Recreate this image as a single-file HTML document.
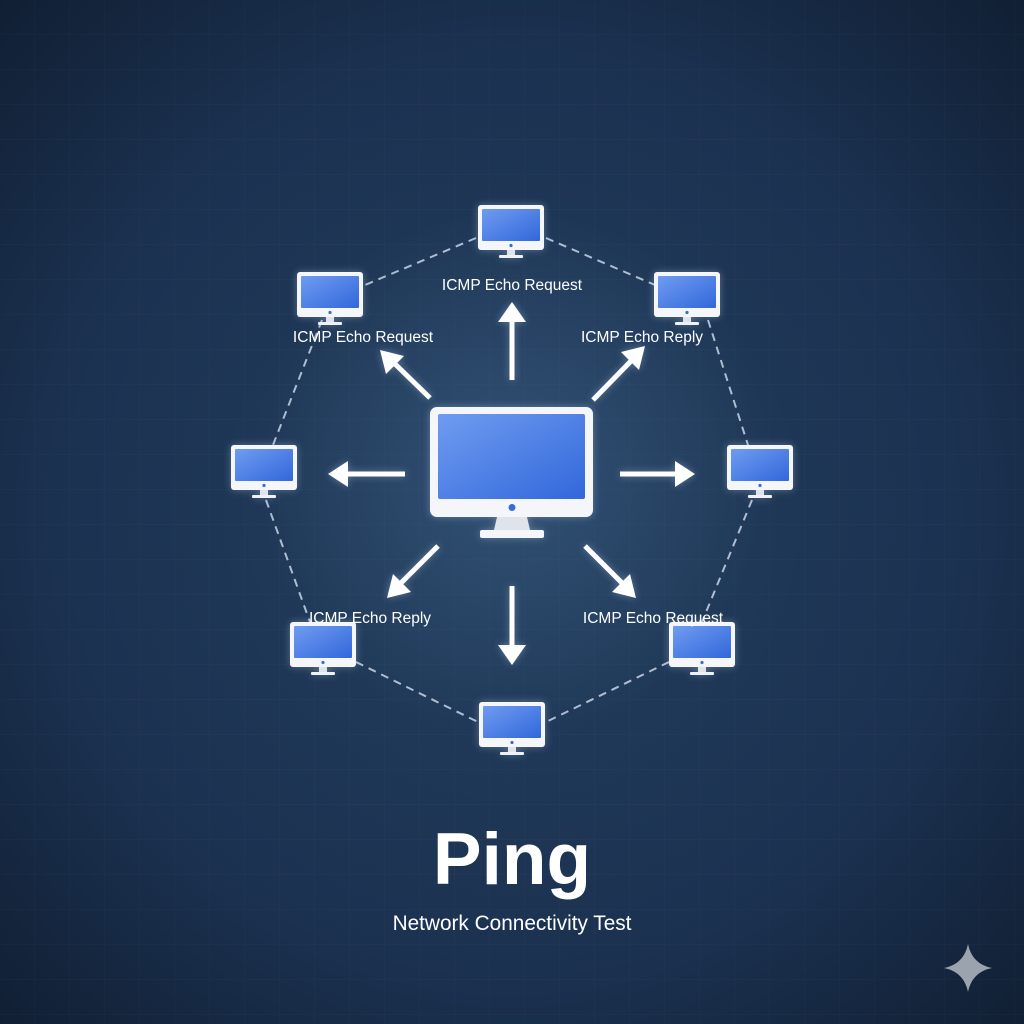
<!DOCTYPE html>
<html><head><meta charset="utf-8"><style>
html,body{margin:0;padding:0;width:1024px;height:1024px;overflow:hidden;background:#172a43}
svg{display:block}
</style></head><body>
<svg width="1024" height="1024" viewBox="0 0 1024 1024" xmlns="http://www.w3.org/2000/svg">
<defs>
<radialGradient id="bg" cx="50%" cy="50%" r="75%">
<stop offset="0" stop-color="#24405f"/>
<stop offset="0.6" stop-color="#1b3150"/>
<stop offset="1" stop-color="#0f1c2e"/>
</radialGradient>
<radialGradient id="glow" cx="50%" cy="50%" r="50%">
<stop offset="0" stop-color="#3d5f86" stop-opacity="0.55"/>
<stop offset="1" stop-color="#3d5f86" stop-opacity="0"/>
</radialGradient>
<linearGradient id="scr" x1="0" y1="0" x2="1" y2="1">
<stop offset="0" stop-color="#6f9cf0"/>
<stop offset="1" stop-color="#3267db"/>
</linearGradient>
<pattern id="grid" width="35" height="35" patternUnits="userSpaceOnUse">
<path d="M35 0V35H0" fill="none" stroke="#ffffff" stroke-opacity="0.035" stroke-width="1"/>
</pattern>
<filter id="sh" x="-50%" y="-50%" width="200%" height="200%">
<feGaussianBlur stdDeviation="4" result="b"/>
<feFlood flood-color="#cfe0ff" flood-opacity="0.35"/>
<feComposite in2="b" operator="in"/>
<feMerge><feMergeNode/><feMergeNode in="SourceGraphic"/></feMerge>
</filter>
<g id="mon">
<rect x="0" y="0" width="66" height="45" rx="3" fill="#f4f6fa"/>
<rect x="4" y="4" width="58" height="32" rx="1" fill="url(#scr)"/>
<circle cx="33" cy="40.5" r="1.6" fill="#3a6ad8"/>
<rect x="29" y="45" width="8" height="5" fill="#dfe3ea"/>
<rect x="21" y="50" width="24" height="3" rx="1" fill="#eef1f5"/>
</g>
</defs>
<rect width="1024" height="1024" fill="url(#bg)"/>
<rect width="1024" height="1024" fill="url(#grid)"/>
<circle cx="512" cy="470" r="260" fill="url(#glow)"/>

<g stroke="#c9d5e6" stroke-width="2" stroke-dasharray="8,6" fill="none" opacity="0.85">
<line x1="476" y1="238" x2="365" y2="285"/>
<line x1="546" y1="238" x2="655" y2="285"/>
<line x1="322" y1="320" x2="273" y2="445"/>
<line x1="708" y1="320" x2="748" y2="445"/>
<line x1="266" y1="500" x2="310" y2="622"/>
<line x1="752" y1="500" x2="702" y2="622"/>
<line x1="356" y1="662" x2="478" y2="722"/>
<line x1="669" y1="662" x2="546" y2="722"/>
</g>

<g filter="url(#sh)">
<use href="#mon" x="478" y="205"/>
<use href="#mon" x="297" y="272"/>
<use href="#mon" x="654" y="272"/>
<use href="#mon" x="231" y="445"/>
<use href="#mon" x="727" y="445"/>
<use href="#mon" x="290" y="622"/>
<use href="#mon" x="669" y="622"/>
<use href="#mon" x="479" y="702"/>
</g>

<g filter="url(#sh)">
<rect x="430" y="407" width="163" height="110" rx="7" fill="#f4f6fa"/>
<rect x="438" y="414" width="147" height="85" rx="2" fill="url(#scr)"/>
<circle cx="512" cy="507.5" r="3.5" fill="#3a6ad8"/>
<path d="M497 517h30l3 13h-36z" fill="#dfe3ea"/>
<rect x="480" y="530" width="64" height="8" rx="2" fill="#f4f6fa"/>
</g>

<g filter="url(#sh)" fill="#ffffff" stroke="#ffffff">
<g stroke-width="5" stroke-linecap="butt">
<line x1="512" y1="380" x2="512" y2="318"/>
<line x1="405" y1="474" x2="345" y2="474"/>
<line x1="620" y1="474" x2="678" y2="474"/>
<line x1="512" y1="586" x2="512" y2="648"/>
<line x1="430" y1="398" x2="393" y2="362"/>
<line x1="593" y1="400" x2="632" y2="360"/>
<line x1="438" y1="546" x2="400" y2="584"/>
<line x1="585" y1="546" x2="623" y2="584"/>
</g>
<g stroke="none">
<polygon points="512,302 498,322 526,322"/>
<polygon points="328,474 348,461 348,487"/>
<polygon points="695,474 675,461 675,487"/>
<polygon points="512,665 498,645 526,645"/>
<polygon points="380,350 404,356 386,374"/>
<polygon points="645,346 639,370 621,352"/>
<polygon points="387,598 393,574 411,592"/>
<polygon points="636,598 612,592 630,574"/>
</g>
</g>

<g fill="#ffffff" font-family="Liberation Sans, sans-serif" font-size="15.5" text-anchor="middle">
<text x="512" y="290">ICMP Echo Request</text>
<text x="363" y="342">ICMP Echo Request</text>
<text x="642" y="342">ICMP Echo Reply</text>
<text x="370" y="623">ICMP Echo Reply</text>
<text x="653" y="623">ICMP Echo Request</text>
</g>

<text x="512" y="884" fill="#ffffff" font-family="Liberation Sans, sans-serif" font-weight="bold" font-size="73" text-anchor="middle">Ping</text>
<text x="512" y="930" fill="#ffffff" font-family="Liberation Sans, sans-serif" font-size="20.8" text-anchor="middle">Network Connectivity Test</text>

<path d="M968 944 Q972 964 992 968 Q972 972 968 992 Q964 972 944 968 Q964 964 968 944Z" fill="#9aa3ae"/>
</svg>
</body></html>
